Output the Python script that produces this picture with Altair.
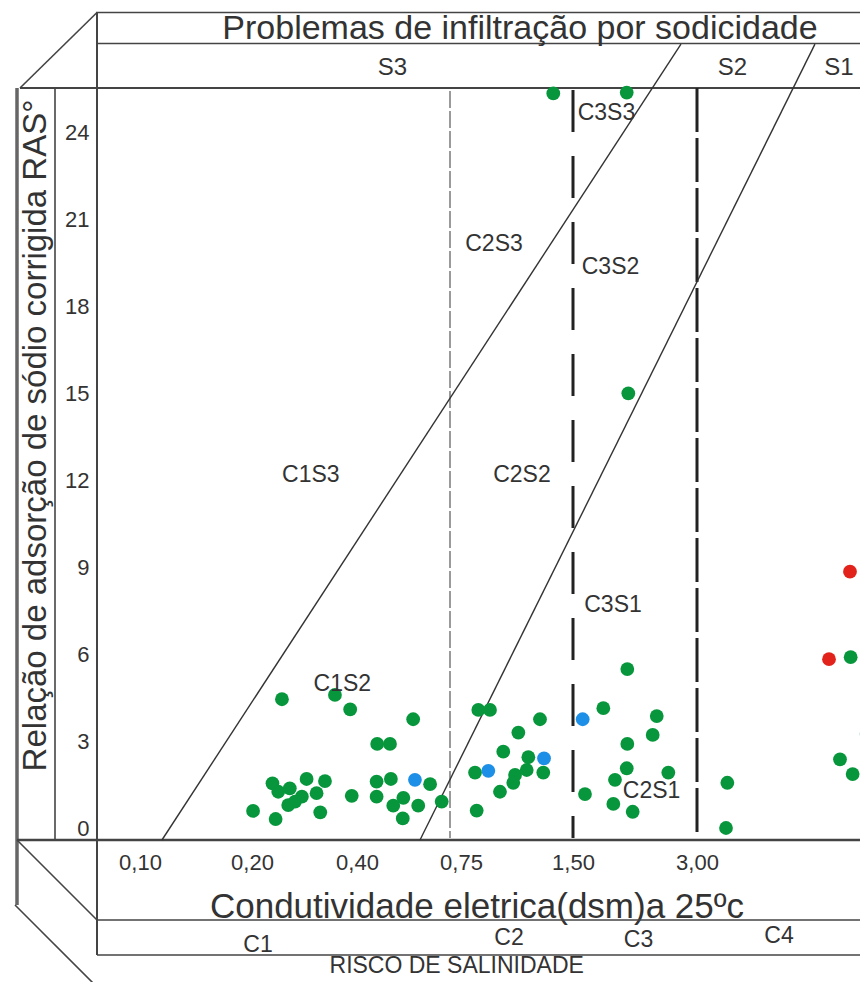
import altair as alt
import pandas as pd

# ---------------- data ----------------
# electrical conductivity (dS/m at 25 ºC) and corrected SAR of each sample
green_ec = [0.257, 0.358, 0.387, 0.589, 0.468, 0.511, 0.239, 0.304, 0.339, 0.250,
            0.272, 0.295, 0.323, 0.269, 0.282, 0.202, 0.245, 0.330, 0.390, 0.466,
            0.514, 0.466, 0.556, 0.522, 0.606, 0.554, 0.646, 0.685, 0.866, 0.944,
            1.279, 1.134, 1.033, 1.201, 0.844, 1.112, 1.190, 1.301, 1.100, 1.011,
            0.855, 1.867, 1.645, 2.157, 2.513, 2.464, 2.157, 2.150, 2.008, 2.653,
            1.988, 2.222, 3.367, 3.351, 1.368, 2.150, 2.169, 4.859, 5.053, 4.730,
            4.883]
green_ras = [4.44, 4.59, 4.09, 3.75, 2.90, 2.90, 1.54, 1.69, 1.62, 1.25,
             1.37, 1.08, 1.20, 0.79, 0.91, 0.59, 0.31, 0.54, 1.11, 1.60,
             1.69, 1.08, 1.04, 0.77, 0.77, 0.33, 1.51, 0.91, 4.07, 4.07,
             3.75, 3.29, 2.63, 2.44, 1.91, 1.83, 2.00, 1.91, 1.56, 1.25,
             0.60, 4.13, 1.17, 5.48, 3.86, 3.21, 2.90, 2.06, 1.66, 1.91,
             0.83, 0.56, 1.56, 0.00, 25.33, 25.36, 14.99, 5.89, 3.24, 2.37,
             1.86]
blue_ec = [0.595, 0.933, 1.306, 1.617]
blue_ras = [1.66, 1.97, 2.40, 3.75]
red_ec = [4.851, 4.597]
red_ras = [8.84, 5.82]

ec_ticks = [0.10, 0.20, 0.40, 0.75, 1.50, 3.00]
ras_ticks = [0, 3, 6, 9, 12, 15, 18, 21, 24]

zone_names = ["C1S3", "C2S3", "C3S3", "C1S2", "C2S2", "C3S2", "C2S1", "C3S1"]
zone_ec = [0.312, 0.971, 1.905, 0.372, 1.158, 1.954, 2.450, 1.984]
zone_ras = [12.17, 20.14, 24.67, 4.98, 12.17, 19.34, 1.26, 7.69]

# salinity class limits as drawn (C1/C2, C2/C3, C3/C4)
sal_limit_ec = [0.713, 1.50, 3.00]
sal_limit_kind = ["light", "dark", "dark2"]

# sodicity class limits (S3/S2 and S2/S1), straight lines between two ends
sod_names = ["S3/S2", "S2/S1"]
sod_ec_low = [0.1196, 0.612]
sod_ec_high = [2.806, 4.427]
sod_ras_low = [-0.414, -0.414]
sod_ras_high = [27.03, 27.03]

sod_labels = ["S3", "S2", "S1"]
sal_labels = ["C1", "C2", "C3", "C4"]

title_top = "Problemas de infiltração por sodicidade"
title_x = "Condutividade eletrica(dsm)a 25ºc"
title_y = "Relação de adsorção de sódio corrigida RAS°"
title_bottom = "RISCO DE SALINIDADE"

# ---------------- tables ----------------
pts = pd.concat([
    pd.DataFrame({"ec": green_ec, "ras": green_ras, "grupo": "verde"}),
    pd.DataFrame({"ec": blue_ec, "ras": blue_ras, "grupo": "azul"}),
    pd.DataFrame({"ec": red_ec, "ras": red_ras, "grupo": "vermelho"}),
], ignore_index=True)
zones = pd.DataFrame({"nome": zone_names, "ec": zone_ec, "ras": zone_ras})
sal = pd.DataFrame({"ec": sal_limit_ec, "tipo": sal_limit_kind})
sod = pd.DataFrame({"nome": sod_names, "ec1": sod_ec_low, "ec2": sod_ec_high,
                    "ras1": sod_ras_low, "ras2": sod_ras_high})
one = pd.DataFrame({"k": [0]})

# ---------------- layout ----------------
W, H = 763, 752
FONT = "Liberation Sans"
INK = "#333333"
LINE = "#444444"

xscale = alt.Scale(domain=[0.0616, 0.1, 0.2, 0.4, 0.75, 1.5, 3.0, 4.972],
                   range=[0, 43, 155, 260, 364, 476, 600, W],
                   zero=False, nice=False)
yscale = alt.Scale(domain=[-12 / 29, 740 / 29], zero=False, nice=False)

xaxis = alt.Axis(values=ec_ticks, labelExpr="replace(format(datum.value, '.2f'), '.', ',')",
                 domain=False, ticks=False, tickSize=0, grid=False,
                 labelFont=FONT, labelFontSize=22, labelColor=INK,
                 labelBaseline="middle", labelPadding=22, labelFlush=False,
                 title=title_x, titleFont=FONT, titleFontSize=35, titleFontWeight="normal",
                 titleColor=INK, titleX=379.5, titleY=77, titleAlign="center",
                 titleBaseline="alphabetic")
yaxis = alt.Axis(values=ras_ticks, domain=False, ticks=False, tickSize=0, grid=False,
                 labelFont=FONT, labelFontSize=22, labelColor=INK, labelPadding=8,
                 title=title_y, titleFont=FONT, titleFontSize=33, titleFontWeight="normal",
                 titleColor=INK, titleX=-62, titleY=347, titleAngle=270,
                 titleAlign="center", titleBaseline="middle")


def X(field):
    return alt.X(field, type="quantitative", scale=xscale, axis=xaxis)


def Y(field):
    return alt.Y(field, type="quantitative", scale=yscale, axis=yaxis)


def seg(x1, y1, x2, y2, w=1.6, c=LINE):
    return alt.Chart(one).mark_rule(strokeWidth=w, color=c, clip=False).encode(
        x=alt.value(x1), y=alt.value(y1), x2=alt.value(x2), y2=alt.value(y2))


def label(txt, x, y, size):
    return alt.Chart(one).mark_text(text=txt, font=FONT, fontSize=size, color=INK,
                                    align="center", baseline="alphabetic").encode(
        x=alt.value(x), y=alt.value(y))


frame = [
    seg(-1, -75.5, W, -75.5),
    seg(0, -44.5, W, -44.5),
    seg(-77, 0, W, 0, 2),
    seg(0, -75.5, -77, 0),
    seg(0, -75.5, 0, 867, 2),
    seg(-80, 0, -80, 817, 3.5, "#666666"),
    seg(-42, 0, -42, 752),
    seg(-80, 752, W, 752, 2.5),
    seg(-80, 752, 0, 832),
    seg(0, 832, W, 832),
    seg(0, 867, W, 867),
    seg(-82, 817, 3, 902),
]

texts = [
    label(title_top, 423, -49, 34),
    label(sod_labels[0], 295.5, -13, 24),
    label(sod_labels[1], 635.5, -13, 24),
    label(sod_labels[2], 742, -13, 24),
    label(sal_labels[0], 161, 864, 23),
    label(sal_labels[1], 412, 857, 23),
    label(sal_labels[2], 541.5, 859, 23),
    label(sal_labels[3], 682, 855, 23),
    label(title_bottom, 359.7, 885, 23),
]

light = alt.Chart(sal).transform_filter("datum.tipo == 'light'").mark_rule(
    color="#9a9a9a", strokeWidth=2, strokeDash=[17, 3]).encode(
    x=X("ec"), y=alt.value(3), y2=alt.value(750))
dark = alt.Chart(sal).transform_filter("datum.tipo == 'dark'").mark_rule(
    color="#222222", strokeWidth=3, strokeDash=[42, 24]).encode(
    x=X("ec"), y=alt.value(2), y2=alt.value(750))
dark2 = alt.Chart(sal).transform_filter("datum.tipo == 'dark2'").mark_rule(
    color="#222222", strokeWidth=3, strokeDash=[44, 6]).encode(
    x=X("ec"), y=alt.value(0), y2=alt.value(750))

sodlines = alt.Chart(sod).mark_rule(color="#333333", strokeWidth=1.4, clip=False).encode(
    x=X("ec1"), x2="ec2", y=Y("ras1"), y2="ras2")

points = alt.Chart(pts).mark_circle(size=190, opacity=1).encode(
    x=X("ec"), y=Y("ras"),
    color=alt.Color("grupo:N", legend=None,
                    scale=alt.Scale(domain=["verde", "azul", "vermelho"],
                                    range=["#08963c", "#1e8fe6", "#e2231c"])))

zone_text = alt.Chart(zones).mark_text(font=FONT, fontSize=23, color=INK).encode(
    x=X("ec"), y=Y("ras"), text="nome:N")

chart = alt.layer(*frame, light, dark, dark2, sodlines, points, zone_text, *texts).properties(
    width=W, height=H,
    padding={"left": 89, "top": 80, "right": 0, "bottom": 142},
    autosize=alt.AutoSizeParams(type="none"),
).configure_view(stroke=None)

chart.save("out.html", embed_options={"renderer": "svg", "actions": False})
